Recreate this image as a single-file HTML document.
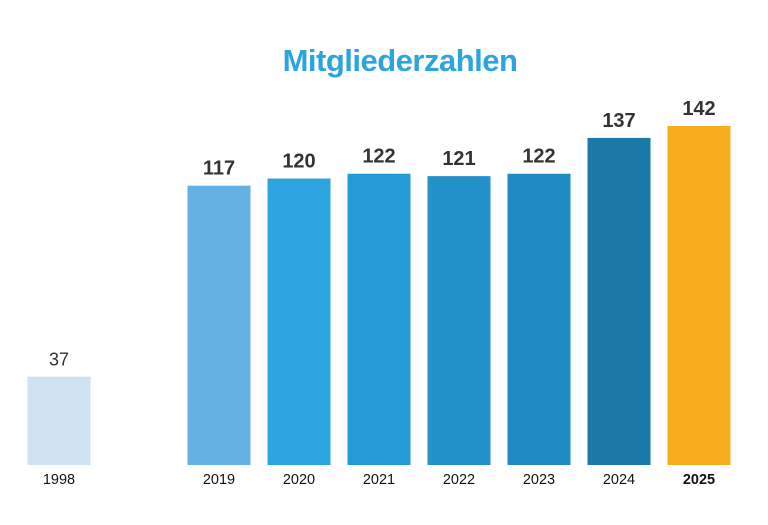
<!DOCTYPE html>
<html><head><meta charset="utf-8">
<style>
html,body{margin:0;padding:0;background:#fff;}
body{width:768px;height:525px;overflow:hidden;}
svg{display:block;}
</style></head>
<body>
<svg id="chart" width="768" height="525" xmlns="http://www.w3.org/2000/svg">
<text x="400" y="71" text-anchor="middle" font-family="Liberation Sans, sans-serif" font-weight="bold" font-size="31" fill="#2ba4e0" letter-spacing="-0.5">Mitgliederzahlen</text>
<g id="bars"></g>
</svg>
<script>
const categories = ["1998","2019","2020","2021","2022","2023","2024","2025"];
const values = [37,117,120,122,121,122,137,142];
const slots = [0,2,3,4,5,6,7,8];
const colors = ["#cfe2f3","#63b0e3","#2ba4e0","#259bd5","#2391ca","#208bc0","#1b79a8","#f6ae1f"];
const baseY = 465, scale = 339/142, barW = 63;
function xCenter(s){return 59 + 80*s;}
function yPos(v){return baseY - v*scale;}
const g = document.getElementById('bars');
const ns = "http://www.w3.org/2000/svg";
categories.forEach((c,i)=>{
  const cx = xCenter(slots[i]);
  const r = document.createElementNS(ns,'rect');
  
  
  r.setAttribute('x', cx - barW/2);
  r.setAttribute('y', yPos(values[i]));
  r.setAttribute('width', barW);
  r.setAttribute('height', baseY - yPos(values[i]));
  r.setAttribute('fill', colors[i]);
  g.appendChild(r);
  const t = document.createElementNS(ns,'text');
  
  
  t.setAttribute('x', cx);
  t.setAttribute('y', yPos(values[i]) - 11);
  t.setAttribute('text-anchor','middle');
  t.setAttribute('font-family','Liberation Sans Narrow, Liberation Sans, sans-serif');
  t.setAttribute('font-size', i===0 ? '18' : '20');
  t.setAttribute('font-weight', i===0 ? 'normal' : 'bold');
  t.setAttribute('fill','#333');
  t.textContent = values[i];
  g.appendChild(t);
  const a = document.createElementNS(ns,'text');
  
  
  a.setAttribute('x', cx);
  a.setAttribute('y', 484);
  a.setAttribute('text-anchor','middle');
  a.setAttribute('font-family','Liberation Sans, sans-serif');
  a.setAttribute('font-size','14.5');
  a.setAttribute('font-weight', i===categories.length-1 ? 'bold' : 'normal');
  a.setAttribute('fill','#111');
  a.textContent = c;
  g.appendChild(a);
});
</script>
</body></html>
